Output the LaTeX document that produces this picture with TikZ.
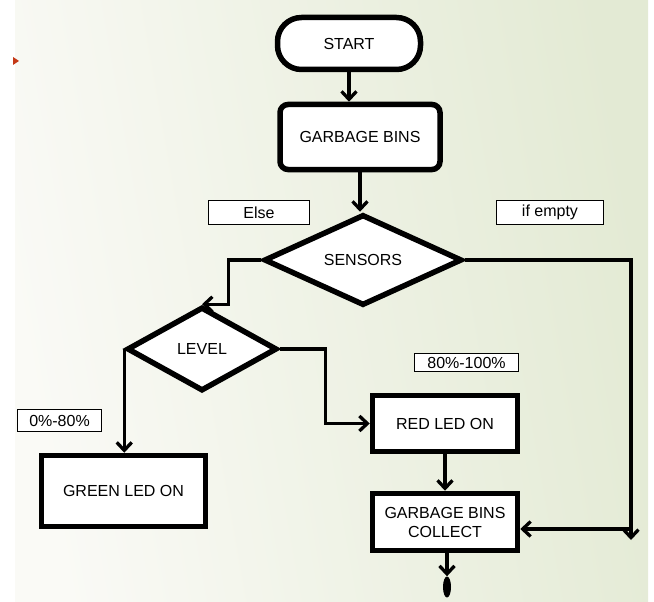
\documentclass[tikz,border=0pt]{standalone}
\usepackage{fontspec}
\setmainfont{Liberation Sans}
\usepackage{tikz}
\usetikzlibrary{arrows.meta, shapes.geometric}
\definecolor{bgpale}{RGB}{250,250,246}
\definecolor{bggreen}{RGB}{227,234,212}
\definecolor{bulletred}{RGB}{196,56,22}

\begin{document}
\begin{tikzpicture}[
  x=1pt, y=-1pt, every node/.style={align=center, font=\fontsize{16}{19}\selectfont},
  box/.style={draw, line width=5.5pt, fill=white, inner sep=2pt},
  term/.style={box, rounded corners=24pt},
  decision/.style={diamond, draw, line width=5.5pt, fill=white, inner sep=0pt},
  tag/.style={draw, line width=0.8pt, fill=white, inner sep=0pt},
  link/.style={line width=3.3pt},
  >={Straight Barb[length=8pt,width=15pt]}
]
\useasboundingbox (0,0) rectangle (654,602);
\shade[left color=bgpale, right color=bggreen, shading angle=100] (15,0) rectangle (648,602);
\fill[bulletred] (13,57) -- (19,61) -- (13,65) -- cycle;

\node[term, minimum width=143pt, minimum height=52pt] (start) at (349,43.5) {START};
\node[box, rounded corners=8pt, minimum width=160pt, minimum height=65pt] (bins) at (360,137) {GARBAGE BINS};
\node[decision, minimum width=198pt, minimum height=91pt] (sensors) at (363,260) {SENSORS};
\node[decision, minimum width=150pt, minimum height=84pt] (level) at (202,349) {LEVEL};
\node[box, minimum width=164pt, minimum height=71pt] (green) at (123.5,491) {GREEN LED ON};
\node[box, minimum width=145pt, minimum height=56pt] (red) at (445,423.5) {RED LED ON};
\node[box, minimum width=145pt, minimum height=57pt] (collect) at (445,522) {GARBAGE BINS\\COLLECT};
\node[ellipse, fill, minimum width=8pt, minimum height=21pt, inner sep=0pt] (stop) at (447,587) {};

\node[tag, minimum width=101pt, minimum height=24pt] (elsetag) at (259,212.5) {Else};
\node[tag, minimum width=107pt, minimum height=24pt] (emptytag) at (550,212.5) {if empty};
\node[tag, minimum width=104pt, minimum height=18pt] (hightag) at (466.5,362.5) {80\%-100\%};
\node[tag, minimum width=84pt, minimum height=22pt] (lowtag) at (59.5,420.5) {0\%-80\%};

\coordinate (edge) at (631,540);
\coordinate (join) at (631,529);

\draw[link,->] (start.south) -- (start.south |- bins.north);
\draw[link,->] (bins.south) -- (bins.south |- sensors.north);
\draw[link,->] (sensors.east) -| (edge);
\draw[link,->] (join) -- (join -| collect.east);
\draw[link,->] (sensors.west) -- ++(-33,0) |- (level.north);
\draw[link,->] (level.east) -- ++(46,0) |- (red.west);
\draw[link,->] (level.west) -- (level.west |- green.north);
\draw[link,->] (red.south) -- (collect.north);
\draw[link,->] (collect.south -| stop.north) -- (stop.north);
\end{tikzpicture}
\end{document}
